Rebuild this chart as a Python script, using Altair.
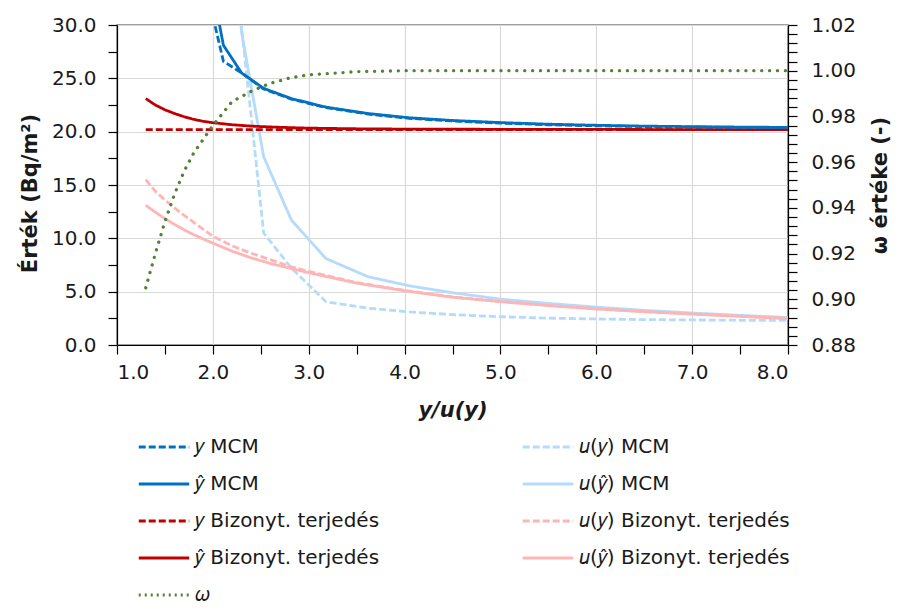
import altair as alt
import pandas as pd

# ---- data ----
x_prop = [1.3, 1.4, 1.5, 1.6, 1.7, 1.8, 1.9, 2.0, 2.2, 2.4, 2.6, 2.8, 3.0, 3.5,
          4.0, 4.5, 5.0, 5.5, 6.0, 6.5, 7.0, 7.5, 8.0]
y_prop = [20.2, 20.2, 20.2, 20.2, 20.2, 20.2, 20.2, 20.2, 20.2, 20.2, 20.2, 20.2,
          20.2, 20.2, 20.2, 20.2, 20.2, 20.2, 20.2, 20.2, 20.2, 20.2, 20.2]
yhat_prop = [23.1, 22.5, 22.05, 21.7, 21.4, 21.15, 20.97, 20.84, 20.65, 20.52,
             20.44, 20.38, 20.33, 20.27, 20.24, 20.23, 20.22, 20.21, 20.21, 20.2,
             20.2, 20.2, 20.2]
u_y_prop = [15.5, 14.4, 13.6, 12.85, 12.15, 11.5, 10.85, 10.2, 9.3, 8.6, 8.0,
            7.38, 6.9, 5.85, 5.12, 4.5, 4.08, 3.72, 3.4, 3.14, 2.92, 2.7, 2.5]
u_yhat_prop = [13.1, 12.45, 11.85, 11.3, 10.8, 10.35, 9.93, 9.55, 8.8, 8.17, 7.65,
               7.2, 6.78, 5.8, 5.08, 4.48, 4.06, 3.7, 3.38, 3.12, 2.9, 2.68, 2.48]
omega = [0.905, 0.920, 0.934, 0.946, 0.956, 0.964, 0.970, 0.976, 0.9865, 0.991,
         0.9945, 0.9968, 0.9982, 0.9996, 1.0, 1.0, 1.0, 1.0, 1.0, 1.0, 1.0, 1.0, 1.0]

x_mcm = [2.0, 2.11, 2.30, 2.53, 2.82, 3.18, 3.62, 4.05, 4.5, 5.0, 5.5, 6.0, 6.5,
         7.0, 7.5, 8.0]
y_mcm = [30.8, 26.6, 25.5, 24.0, 23.05, 22.25, 21.65, 21.25, 21.0, 20.8, 20.65,
         20.55, 20.48, 20.43, 20.4, 20.37]
yhat_mcm = [33.3, 28.1, 25.5, 24.06, 23.1, 22.3, 21.7, 21.3, 21.05, 20.85, 20.7,
            20.6, 20.52, 20.47, 20.43, 20.4]
u_y_mcm = [80.0, 55.0, 29.8, 10.5, 7.2, 4.06, 3.45, 3.1, 2.85, 2.65, 2.52, 2.44,
           2.38, 2.35, 2.32, 2.3]
u_yhat_mcm = [80.0, 50.0, 29.3, 17.65, 11.7, 8.1, 6.4, 5.55, 4.9, 4.3, 3.9, 3.55,
              3.25, 3.0, 2.78, 2.58]

S1 = "𝑦 MCM"
S2 = "𝑦̂ MCM"
S3 = "𝑦 Bizonyt. terjedés"
S4 = "𝑦̂ Bizonyt. terjedés"
S5 = "𝜔"
S6 = "𝑢(𝑦) MCM"
S7 = "𝑢(𝑦̂) MCM"
S8 = "𝑢(𝑦) Bizonyt. terjedés"
S9 = "𝑢(𝑦̂) Bizonyt. terjedés"

legend_order = [S1, S2, S3, S4, S5, S6, S7, S8, S9]
colors = ["#0070C0", "#0070C0", "#C00000", "#C00000", "#548235",
          "#B4DBFB", "#B4DBFB", "#FFB5B5", "#FFB5B5"]
dashes = [[7, 3], [1, 0], [7, 3], [1, 0], [2, 4], [7, 3], [1, 0], [7, 3], [1, 0]]

rows = []
def add(name, xs, vs):
    for a, b in zip(xs, vs):
        rows.append({"x": a, "v": b, "series": name})

add(S6, x_mcm, u_y_mcm)
add(S7, x_mcm, u_yhat_mcm)
add(S8, x_prop, u_y_prop)
add(S9, x_prop, u_yhat_prop)
add(S3, x_prop, y_prop)
add(S4, x_prop, yhat_prop)
add(S1, x_mcm, y_mcm)
add(S2, x_mcm, yhat_mcm)
left_df = pd.DataFrame(rows)
omega_df = pd.DataFrame({"x": x_prop, "v": omega, "series": [S5] * len(x_prop)})

FONT = "DejaVu Sans"
TXT = "#1a1a1a"

x_ticks = [1.0, 1.5, 2.0, 2.5, 3.0, 3.5, 4.0, 4.5, 5.0, 5.5, 6.0, 6.5, 7.0, 7.5, 8.0]
yl_ticks = [0, 2.5, 5, 7.5, 10, 12.5, 15, 17.5, 20, 22.5, 25, 27.5, 30]
yr_ticks = [round(0.88 + 0.004 * i, 3) for i in range(36)]

legend = alt.Legend(
    title=None, orient="none", legendX=20, legendY=395, columns=2,
    symbolType="stroke", symbolSize=2550, symbolStrokeWidth=3,
    labelFont=FONT, labelFontSize=20, labelColor=TXT, labelOffset=4,
    labelLimit=400, rowPadding=0, columnPadding=110, gridAlign="all",
)

color = alt.Color("series:N", scale=alt.Scale(domain=legend_order, range=colors),
                  legend=legend)
dash = alt.StrokeDash("series:N", scale=alt.Scale(domain=legend_order, range=dashes),
                      legend=legend)

xenc = alt.X("x:Q", scale=alt.Scale(domain=[1, 8], nice=False, zero=False),
             axis=alt.Axis(values=x_ticks, title="y/u(y)", titleFontStyle="italic",
                           labelExpr="datum.value % 1 === 0 ? format(datum.value, '.1f') : ''",
                           gridOpacity={"condition": {"test": "datum.value % 1 === 0", "value": 1}, "value": 0},
                           titleBaseline="middle", titleY=65, labelPadding=8))

left = alt.Chart(left_df).mark_line(clip=True, strokeWidth=2.8).encode(
    x=xenc,
    y=alt.Y("v:Q", scale=alt.Scale(domain=[0, 30], nice=False),
            axis=alt.Axis(values=yl_ticks, title="Érték (Bq/m²)",
                          labelExpr="datum.value % 5 === 0 ? format(datum.value, '.1f') : ''",
                          gridOpacity={"condition": {"test": "datum.value % 5 === 0", "value": 1}, "value": 0},
                          titleAngle=270, titleBaseline="middle", titleX=-87, titleY=168,
                          labelPadding=12)),
    color=color,
    strokeDash=dash,
)

right = alt.Chart(omega_df).mark_line(strokeWidth=3.3, strokeDash=[0.1, 7.8],
                                      strokeCap="round").encode(
    x=xenc,
    y=alt.Y("v:Q", scale=alt.Scale(domain=[0.88, 1.02], nice=False, zero=False),
            axis=alt.Axis(orient="right", values=yr_ticks, title="ω értéke (-)",
                          labelExpr="round(datum.value * 1000) % 20 === 0 ? format(datum.value, '.2f') : ''",
                          grid=False, titleAngle=270, titleBaseline="middle",
                          titleX=92, titleY=160, labelPadding=14)),
    color=color,
)

chart = alt.layer(left, right).resolve_scale(y="independent").properties(
    width=671, height=320,
    autosize=alt.AutoSizeParams(type="none"),
    padding={"left": 109, "top": 17, "right": 113, "bottom": 260},
).configure_view(stroke="#7f7f7f", strokeWidth=1.5).configure_axis(
    labelFont=FONT, labelFontSize=20, labelColor=TXT,
    titleFont=FONT, titleFontSize=21, titleFontWeight="bold", titleColor=TXT,
    domainColor="#000000", domainWidth=1.2, tickColor="#000000", tickSize=9,
    tickWidth=1.2, gridColor="#D9D9D9", gridWidth=1.2,
)

chart.save("out.html", embed_options={"renderer": "svg", "actions": False})
